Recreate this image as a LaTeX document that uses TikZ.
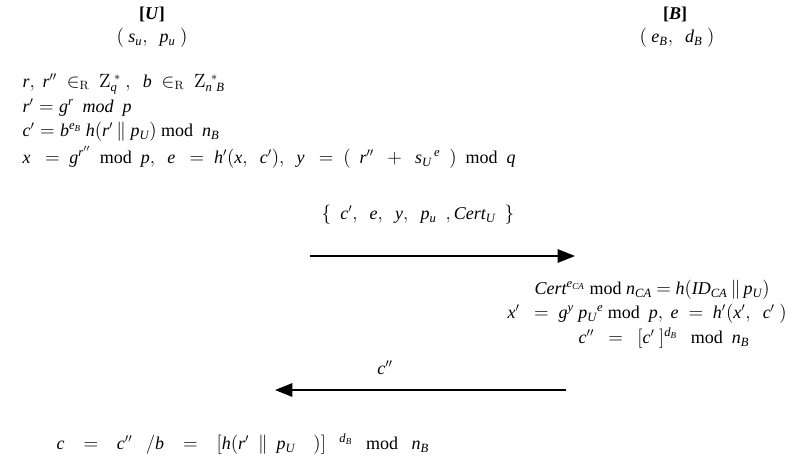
\documentclass[tikz,border=0pt]{standalone}
\usepackage{mathspec}
\setmainfont{Liberation Serif}
\setmathsfont(Digits,Latin){Liberation Serif}
\usetikzlibrary{arrows.meta}
\begin{document}
\begin{tikzpicture}[x=0.75pt,y=-0.75pt,font=\fontsize{13.5}{15}\selectfont]
        \useasboundingbox (0,0) rectangle (804,462);
        % parties
        \node (U) at (152,14) {\textbf{[\textit{U}]}};
        \node (Ukey) at (152,38) {$(\ s_u,\ \ p_u\ )$};
        \node (B) at (675,14) {\textbf{[\textit{B}]}};
        \node (Bkey) at (677,38) {$(\ e_B,\ \ d_B\ )$};
        % user side
        \node[anchor=west] (u1) at (18,84) {$r,\ r''\ \in_{\mathrm{R}}\ \mathrm{Z}_q^{\;*}\ ,\ \ b\ \in_{\mathrm{R}}\ \mathrm{Z}_{n\ B}^{\;\,*}$};
        \node[anchor=west] (u2) at (18,108) {$r'=g^r\ \ mod\ \ p$};
        \node[anchor=west] (u3) at (18,132) {$c'=b^{e_B}\ h(r'\,\|\ p_U)$ mod\ \ $n_B$};
        \node[anchor=west] (u4) at (18,157) {$x\ \ =\ g^{r''}$\ \ mod\ \ $p,\ \ e\ \ =\ h'(x,\ \ c'),\ \ y\ \ =\ (\ \ r''\ \ +\ \ s_U{}^{\,e}\ \ )$\ \ mod\ \ $q$};
        % message 1
        \node (m1) at (418,215) {$\{\ \ c',\ \ e,\ \ y,\ \ p_u\ \ ,Cert_U\ \ \}$};
        \coordinate (m1s) at (310,256);
        \coordinate (m1e) at (575,256);
        \draw[line width=1.5pt,-{Triangle[length=13pt,width=10pt]}] (m1s) -- (m1e);
        % bank side
        \node[anchor=west] (b1) at (530,290) {$Cert^{e_{CA}}$\ mod\ $n_{CA}\ {=}\ h(ID_{CA}\,\|\,p_U)$};
        \node[anchor=west] (b2) at (503,314) {$x'\ \ =\ g^y\ p_U{}^{e}$\ mod\ \ $p,\ e\ =\ h'(x',\ \ c'\ )$};
        \node[anchor=west] (b3) at (574,338) {$c''\ \ =\ \ [c'\ ]^{d_B}$\ \ \ mod\ \ $n_B$};
        % message 2
        \node (m2) at (385,368) {$c''$};
        \coordinate (m2s) at (566,390);
        \coordinate (m2e) at (275,390);
        \draw[line width=1.5pt,-{Triangle[length=13pt,width=10pt]}] (m2s) -- (m2e);
        % result
        \node[anchor=west] (u5) at (52,444) {$c\ \ \ =\ \ \ c''\ \ \ /b\ \ \ =\ \ \ [h(r'\ \ \|\ \ p_U\ \ \ \ )]^{\ \ \ d_B}$\ \ \ mod\ \ \ $n_B$};
\end{tikzpicture}
\end{document}
